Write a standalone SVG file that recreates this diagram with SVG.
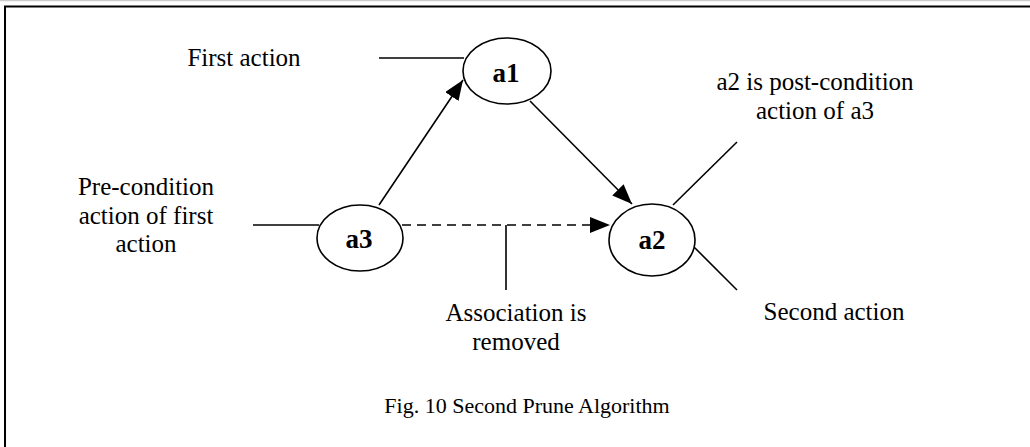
<svg xmlns="http://www.w3.org/2000/svg" width="1030" height="447" viewBox="0 0 1030 447">
<style>
.t{font-family:"Liberation Serif","Times New Roman",serif;font-size:25px;fill:#000;text-anchor:middle}
.n{font-family:"Liberation Serif","Times New Roman",serif;font-size:27px;font-weight:bold;fill:#000;text-anchor:middle}
.cap{font-family:"Liberation Serif","Times New Roman",serif;font-size:22px;fill:#000;text-anchor:middle}
.e{fill:#fff;stroke:#000;stroke-width:1.6}
.l{stroke:#000;stroke-width:1.6;fill:none}
</style>
<defs>
<marker id="ah" markerUnits="userSpaceOnUse" markerWidth="22" markerHeight="18" refX="20" refY="8" orient="auto">
<path d="M0,0 L20,8 L0,16 Z" fill="#000"/>
</marker>
</defs>
<rect width="1030" height="447" fill="#fff"/>
<g id="frame">
<line x1="0" y1="0.5" x2="1030" y2="0.5" stroke="#ccc" stroke-width="1.5"/>
<polyline points="5,447 5,6.5 1030,6.5" fill="none" stroke="#000" stroke-width="2"/>
</g>
<g id="connectors">
<line class="l" x1="379" y1="58" x2="464" y2="58"/>
<line class="l" x1="253" y1="225" x2="319" y2="225"/>
<line class="l" x1="379" y1="205" x2="463" y2="80" marker-end="url(#ah)"/>
<line class="l" x1="530" y1="101" x2="632" y2="204" marker-end="url(#ah)"/>
<line class="l" x1="402" y1="225" x2="610" y2="225" stroke-dasharray="9,6" marker-end="url(#ah)"/>
<line class="l" x1="506" y1="225" x2="506" y2="290"/>
<line class="l" x1="673" y1="205" x2="737" y2="142"/>
<line class="l" x1="694" y1="247" x2="737" y2="290"/>
</g>
<g id="a1">
<ellipse class="e" cx="507" cy="71" rx="44" ry="33"/>
<text class="n" x="506" y="82">a1</text>
</g>
<g id="a3">
<ellipse class="e" cx="360" cy="238" rx="43" ry="33"/>
<text class="n" x="359" y="248">a3</text>
</g>
<g id="a2">
<ellipse class="e" cx="652" cy="240" rx="43" ry="36"/>
<text class="n" x="652" y="249">a2</text>
</g>
<g id="labels">
<text class="t" x="244" y="66">First action</text>
<text class="t" x="815" y="90">a2 is post-condition</text>
<text class="t" x="815" y="119">action of a3</text>
<text class="t" x="146" y="195">Pre-condition</text>
<text class="t" x="146" y="224">action of first</text>
<text class="t" x="146" y="252">action</text>
<text class="t" x="516" y="321">Association is</text>
<text class="t" x="516" y="350">removed</text>
<text class="t" x="834" y="320">Second action</text>
<text class="cap" x="527" y="413">Fig. 10 Second Prune Algorithm</text>
</g>
</svg>
